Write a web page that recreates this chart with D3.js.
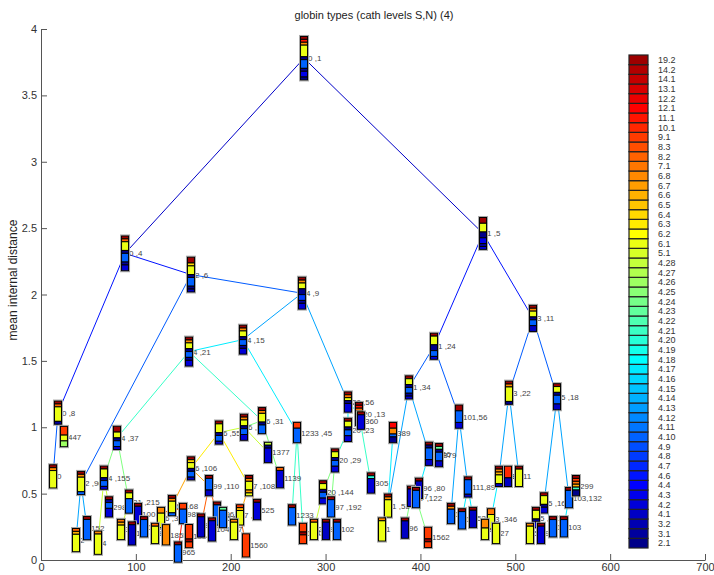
<!DOCTYPE html>
<html>
<head>
<meta charset="utf-8">
<script src="https://cdn.jsdelivr.net/npm/d3@7/dist/d3.min.js"></script>
<style>
  body { margin: 0; background: #fff; }
  svg { font-family: "Liberation Sans", Arial, sans-serif; }
  .tick-label { font-size: 11px; fill: #333; }
  .node-label { font-size: 8px; fill: #444; }
  .legend-label { font-size: 9px; fill: #333; }
</style>
</head>
<body>
<div id="chart"></div>
<script>
// legend classes, bottom (navy) to top (dark red)
const legendLabels = ["2.1","3.1","3.2","4.1","4.2","4.3","4.4","4.6","4.7","4.8","4.9","4.10","4.11","4.12","4.13",
    "4.14","4.15","4.16","4.17","4.18","4.19","4.20","4.21","4.22","4.23","4.24","4.25","4.26","4.27","4.28","5.1",
    "6.1","6.2","6.3","6.4","6.5","6.6","6.7","6.8","7.1","8.2","8.3","9.1","10.1","11.1","12.1","12.2","13.1","14.1","14.2","19.2"];

const xTicks = [0, 100, 200, 300, 400, 500, 600, 700];
const yTicks = [0, 0.5, 1, 1.5, 2, 2.5, 3, 3.5, 4];

// tree nodes
const nodeId = ["r","a","b","a1","a2","a11","a12","a21","a211","a212","a22","c1","c2","c11","c12","c121","c122",
    "d1","d2","d11","d111","d112","d12","d121","d122","d1221","d1222","d21","d22","e1","e2","f1","f2","g1","g2",
    "h1","h2","h11","h12","h21","h22","i1","i2","i21","i22","j1","j2","j11","j12",
    "k1","k2","k11","k12","k21","l1","l2","l11","l21","l22",
    "m1","m2","n1","n2","o1","o2","o11","o12","o21","o22","o221","o222","o2211","o2221",
    "p1","p2","p21","p22","q1","q2","q11","q12","q111","q112","q1111","q1112",
    "s1","s2","s11","s12","s111","s112","s21","s22"];
const nodeParent = [null,"r","r","a","a","a1","a1","a2","a21","a21","a2","a22","a22","c1","c1","c12","c12",
    "c11","c11","d1","d11","d11","d1","d12","d12","d122","d122","d2","d2","d21","d21","e1","e1","f1","f1",
    "g1","g1","h1","h1","h2","h2","g2","g2","i2","i2","f2","f2","j1","j1",
    "c2","c2","k1","k1","k2","k21","k21","l1","l2","l2",
    "b","b","m1","m1","n1","n1","o1","o1","o2","o2","o22","o22","o221","o222",
    "n2","n2","p2","p2","m2","m2","q1","q1","q11","q11","q111","q111",
    "q2","q2","s1","s1","s11","s11","s2","s2"];
const nodeLabel = ["0 ,1","0 ,4","1 ,5","0 ,8","2 ,6","0","447","2 ,96","2","152","4 ,9","4 ,15","20 ,56","4 ,21","1233 ,45","1233","1542",
    "4 ,37","6 ,31","4 ,155","4","298","31 ,215","31","100,215","105","161","6 ,35","1139","6 ,55","1377","6 ,106","7 ,108","6 ,168","99 ,110",
    "6 ,31","985","81","1855","965","1554","99","196","104","54,8","7 ,7","525","7","1560",
    "20 ,13","20 ,23","360","305","20 ,29","20 ,144","97 ,192","29","97","102",
    "1 ,24","3 ,11","1 ,34","101,56","1 ,53","1 ,46","1","389","379","96 ,80","137","7 ,122","96","1562",
    "16","111,89","11","521","3 ,22","5 ,18","3 ,88","11","3 ,346","88","3","27",
    "5 ,167","103,132","5 ,371","13","5","96","299","103"];
const nodeX = [277.3,88.6,466.0,17.9,158.1,12.7,24.2,42.2,36.9,48.5,275.1,212.9,323.6,156.0,269.9,264.6,276.2,
    80.1,233.0,66.4,60.1,71.7,92.8,84.3,102.3,95.9,108.6,214.0,251.9,187.6,239.3,158.1,219.3,138.1,177.1,
    126.5,149.7,120.2,131.8,144.4,156.0,168.7,185.5,180.3,191.9,209.8,227.7,203.5,216.1,
    335.2,323.6,337.3,347.9,309.9,297.3,305.7,287.8,300.4,312.0,
    414.3,518.7,387.9,440.6,365.8,409.0,359.5,371.1,419.6,398.5,390.1,395.3,383.7,408.0,
    432.2,450.1,443.8,455.4,493.4,544.0,482.8,503.9,474.4,492.3,468.1,479.7,
    530.3,556.6,521.8,539.7,515.5,527.1,564.0,551.3];
const nodeY = [3.78,2.31,2.46,1.11,2.15,0.63,0.93,0.58,0.15,0.24,2.01,1.66,1.19,1.57,0.96,0.34,0.20,
    0.92,1.05,0.62,0.13,0.40,0.44,0.23,0.35,0.20,0.25,1.00,0.62,0.96,0.81,0.69,0.56,0.41,0.56,
    0.32,0.35,0.20,0.19,0.06,0.18,0.26,0.35,0.23,0.32,0.34,0.38,0.23,0.11,
    1.10,0.98,1.05,0.58,0.75,0.51,0.40,0.23,0.23,0.23,
    1.61,1.82,1.30,1.08,0.41,0.80,0.23,0.96,0.79,0.54,0.48,0.47,0.24,0.17,
    0.35,0.55,0.31,0.32,1.26,1.23,0.63,0.63,0.31,0.63,0.23,0.20,
    0.43,0.47,0.32,0.25,0.20,0.20,0.56,0.25];
// class mix of each node, top to bottom: [legend class index, count]
const nodeMix = [
    [[50,1],[44,1],[38,1],[31,4],[0,1],[11,3],[1,1],[5,2],[0,1]],
    [[50,1],[40,1],[31,3],[0,1],[11,3],[1,1],[4,2]],
    [[50,2],[31,3],[0,2],[5,2],[1,1],[4,1]],
    [[50,1],[40,1],[31,5],[1,1]],
    [[50,2],[34,1],[31,3],[0,1],[11,3],[0,1],[3,1]],
    [[50,1],[38,1],[31,6]],
    [[42,3],[31,2],[27,2]],
    [[50,1],[38,1],[31,5],[11,1]],
    [[40,1],[36,1],[31,6]],
    [[50,1],[11,7]],
    [[50,1],[38,1],[31,2],[0,2],[9,2],[1,1],[4,2]],
    [[50,1],[38,1],[31,2],[0,1],[11,2],[1,1],[4,2]],
    [[50,1],[39,1],[31,1],[0,1],[4,3]],
    [[50,1],[38,1],[31,2],[0,1],[11,2],[1,1],[4,2]],
    [[42,2],[11,5]],
    [[50,1],[11,6]],
    [[42,3],[50,1],[42,3]],
    [[50,2],[31,2],[0,1],[11,2],[4,1]],
    [[50,1],[38,1],[31,3],[0,1],[11,3]],
    [[50,1],[31,3],[0,1],[11,2],[4,1]],
    [[38,1],[31,7]],
    [[50,1],[1,1],[11,2],[4,3]],
    [[50,1],[31,2],[11,5]],
    [[39,1],[36,1],[31,5]],
    [[50,1],[4,6]],
    [[50,1],[3,7]],
    [[50,1],[11,6]],
    [[50,1],[38,1],[31,2],[0,1],[11,2],[4,2]],
    [[40,1],[4,6]],
    [[50,1],[31,3],[0,1],[11,2],[4,1]],
    [[29,1],[0,1],[4,5]],
    [[50,1],[34,1],[31,2],[0,1],[11,2],[3,1]],
    [[50,1],[38,1],[31,3],[37,1],[31,1]],
    [[50,1],[38,1],[31,4],[11,1]],
    [[50,1],[11,4],[3,2]],
    [[38,2],[31,5]],
    [[42,2],[11,5]],
    [[40,1],[31,6]],
    [[38,7]],
    [[50,1],[11,6]],
    [[42,5],[50,1],[42,2]],
    [[50,1],[3,7]],
    [[50,1],[11,7]],
    [[50,1],[4,7]],
    [[24,1],[11,6]],
    [[42,1],[36,1],[31,5]],
    [[50,1],[4,6]],
    [[38,1],[31,6]],
    [[42,8]],
    [[50,1],[44,1],[39,1],[31,1],[0,1],[4,3]],
    [[50,1],[31,2],[0,1],[11,2],[4,2]],
    [[50,1],[4,5]],
    [[50,1],[21,1],[4,5]],
    [[50,1],[31,2],[0,1],[11,2],[4,2]],
    [[50,1],[31,2],[0,1],[11,2],[4,2]],
    [[50,1],[11,6]],
    [[40,1],[31,6]],
    [[50,1],[3,6]],
    [[50,1],[11,6]],
    [[50,1],[31,3],[0,2],[11,2],[4,1]],
    [[50,1],[38,1],[31,2],[0,1],[11,2],[3,2]],
    [[50,1],[31,2],[0,1],[11,2],[1,1],[4,1]],
    [[50,2],[11,4],[4,2]],
    [[50,1],[38,1],[31,6]],
    [[50,1],[0,1],[11,4],[3,2]],
    [[38,1],[31,7]],
    [[45,2],[38,2],[11,1],[0,2]],
    [[50,1],[24,1],[0,1],[11,3],[3,2]],
    [[50,1],[3,6]],
    [[50,1],[4,6]],
    [[50,1],[11,6]],
    [[50,1],[3,6]],
    [[42,4],[50,1],[42,2]],
    [[50,1],[38,1],[11,5]],
    [[50,1],[11,5],[3,1]],
    [[50,1],[11,6]],
    [[50,1],[3,6]],
    [[50,1],[38,1],[31,5],[0,1]],
    [[50,1],[31,2],[0,1],[11,3],[3,2]],
    [[50,1],[38,1],[36,1],[31,3],[3,1]],
    [[50,1],[31,6]],
    [[39,2],[31,5]],
    [[43,4],[3,3]],
    [[38,3],[31,4]],
    [[31,7]],
    [[50,1],[31,3],[0,1],[4,2]],
    [[50,1],[11,6]],
    [[50,1],[31,3],[0,1],[4,2]],
    [[50,1],[11,6]],
    [[38,1],[31,6]],
    [[50,1],[4,6]],
    [[50,1],[42,1],[39,1],[36,1],[22,1],[0,2]],
    [[50,1],[11,6]]
];

// MATLAB style jet colormap with m entries
function jetMap(m) {
    let n = Math.ceil(m / 4);
    let u = [];
    for (let i = 1; i <= n; i++) u.push(i / n);
    for (let i = 1; i < n; i++) u.push(1);
    for (let i = n; i >= 1; i--) u.push(i / n);
    let g0 = Math.ceil(n / 2) - (m % 4 === 1 ? 1 : 0);
    let J = d3.range(m).map(() => [0, 0, 0]);
    u.forEach((v, k) => {
        let g = g0 + k + 1, r = g + n, b = g - n;
        if (r >= 1 && r <= m) J[r - 1][0] = v;
        if (g >= 1 && g <= m) J[g - 1][1] = v;
        if (b >= 1 && b <= m) J[b - 1][2] = v;
    });
    return J.map(c => d3.rgb(c[0] * 255, c[1] * 255, c[2] * 255).formatHex());
}
function jetAt(t) {
    let cl = v => Math.max(0, Math.min(1, v));
    return d3.rgb(cl(1.5 - Math.abs(4 * t - 3)) * 255, cl(1.5 - Math.abs(4 * t - 2)) * 255, cl(1.5 - Math.abs(4 * t - 1)) * 255).formatHex();
}

const palette = jetMap(legendLabels.length);

const width = 714, height = 575;
const svg = d3.select("#chart").append("svg")
    .attr("width", width)
    .attr("height", height);

const x = d3.scaleLinear().domain([0, 700]).range([41, 705]);
const y = d3.scaleLinear().domain([0, 4]).range([560, 29]);

// axes (ticks pointing inwards)
const axisG = svg.append("g");
axisG.append("g")
    .attr("transform", "translate(0,560)")
    .call(d3.axisBottom(x).tickValues(xTicks).tickSizeInner(-6).tickSizeOuter(0).tickPadding(3).tickFormat(d3.format("d")));
axisG.append("g")
    .attr("transform", "translate(41,0)")
    .call(d3.axisLeft(y).tickValues(yTicks).tickSizeInner(-6).tickSizeOuter(0).tickPadding(4).tickFormat(d => d));
axisG.selectAll(".domain, .tick line").attr("stroke", "#555");
axisG.selectAll(".tick text").attr("class", "tick-label").attr("font-family", null).attr("font-size", null);

// title and axis label
svg.append("text")
    .attr("x", 374).attr("y", 19)
    .attr("text-anchor", "middle")
    .attr("font-size", 11).attr("fill", "#222")
    .text("globin types (cath levels S,N) (4)");
svg.append("text")
    .attr("transform", "translate(17,280) rotate(-90)")
    .attr("text-anchor", "middle")
    .attr("font-size", 12).attr("fill", "#222")
    .text("mean internal distance");

// build node table
const nodes = nodeId.map((id, i) => ({
    id: id, parent: nodeParent[i], label: nodeLabel[i],
    x: nodeX[i], y: nodeY[i], mix: nodeMix[i]
}));
const byId = new Map(nodes.map(n => [n.id, n]));
nodes.forEach(n => {
    let d = 0, p = n.parent;
    while (p) { d++; p = byId.get(p).parent; }
    n.depth = d;
});
const maxDepth = 14;

// edges
svg.append("g").selectAll("line")
    .data(nodes.filter(n => n.parent))
    .enter().append("line")
    .attr("x1", d => x(byId.get(d.parent).x))
    .attr("y1", d => y(byId.get(d.parent).y))
    .attr("x2", d => x(d.x))
    .attr("y2", d => y(d.y))
    .attr("stroke", d => jetAt(d.depth / maxDepth))
    .attr("stroke-width", 1);

// labels
svg.append("g").selectAll("text")
    .data(nodes)
    .enter().append("text")
    .attr("class", "node-label")
    .attr("x", d => x(d.x) + 4)
    .attr("y", d => y(d.y) + 3)
    .text(d => d.label);

// stacked class bars at each node
const unit = 2.9, barW = 7;
const barG = svg.append("g").selectAll("g")
    .data(nodes)
    .enter().append("g")
    .attr("transform", d => {
        let total = d3.sum(d.mix, m => m[1]);
        return "translate(" + (x(d.x) - barW / 2) + "," + (y(d.y) - total * unit / 2) + ")";
    });
barG.append("rect")
    .attr("x", -1).attr("y", -1)
    .attr("width", barW + 2)
    .attr("height", d => d3.sum(d.mix, m => m[1]) * unit + 2)
    .attr("fill", "none")
    .attr("stroke", "#aaa")
    .attr("stroke-width", 1);
barG.each(function(d) {
    let cum = 0;
    let segs = d.mix.map(m => { let s = { c: m[0], y0: cum, n: m[1] }; cum += m[1]; return s; });
    d3.select(this).selectAll(".seg")
        .data(segs)
        .enter().append("rect")
        .attr("class", "seg")
        .attr("x", 0)
        .attr("y", s => s.y0 * unit)
        .attr("width", barW)
        .attr("height", s => s.n * unit)
        .attr("fill", s => palette[s.c])
        .attr("stroke", "#000")
        .attr("stroke-width", 1);
});

// colour legend
const legY = d3.scaleBand()
    .domain(d3.range(legendLabels.length).reverse())
    .range([55, 548]);
const leg = svg.append("g");
leg.selectAll("rect")
    .data(legendLabels)
    .enter().append("rect")
    .attr("x", 629)
    .attr("y", (d, i) => legY(i))
    .attr("width", 19)
    .attr("height", legY.bandwidth())
    .attr("fill", (d, i) => palette[i])
    .attr("stroke", "#222")
    .attr("stroke-width", 1.2);
leg.selectAll("text")
    .data(legendLabels)
    .enter().append("text")
    .attr("class", "legend-label")
    .attr("x", 658)
    .attr("y", (d, i) => legY(i) + legY.bandwidth() / 2 + 3)
    .text(d => d);
</script>
</body>
</html>
